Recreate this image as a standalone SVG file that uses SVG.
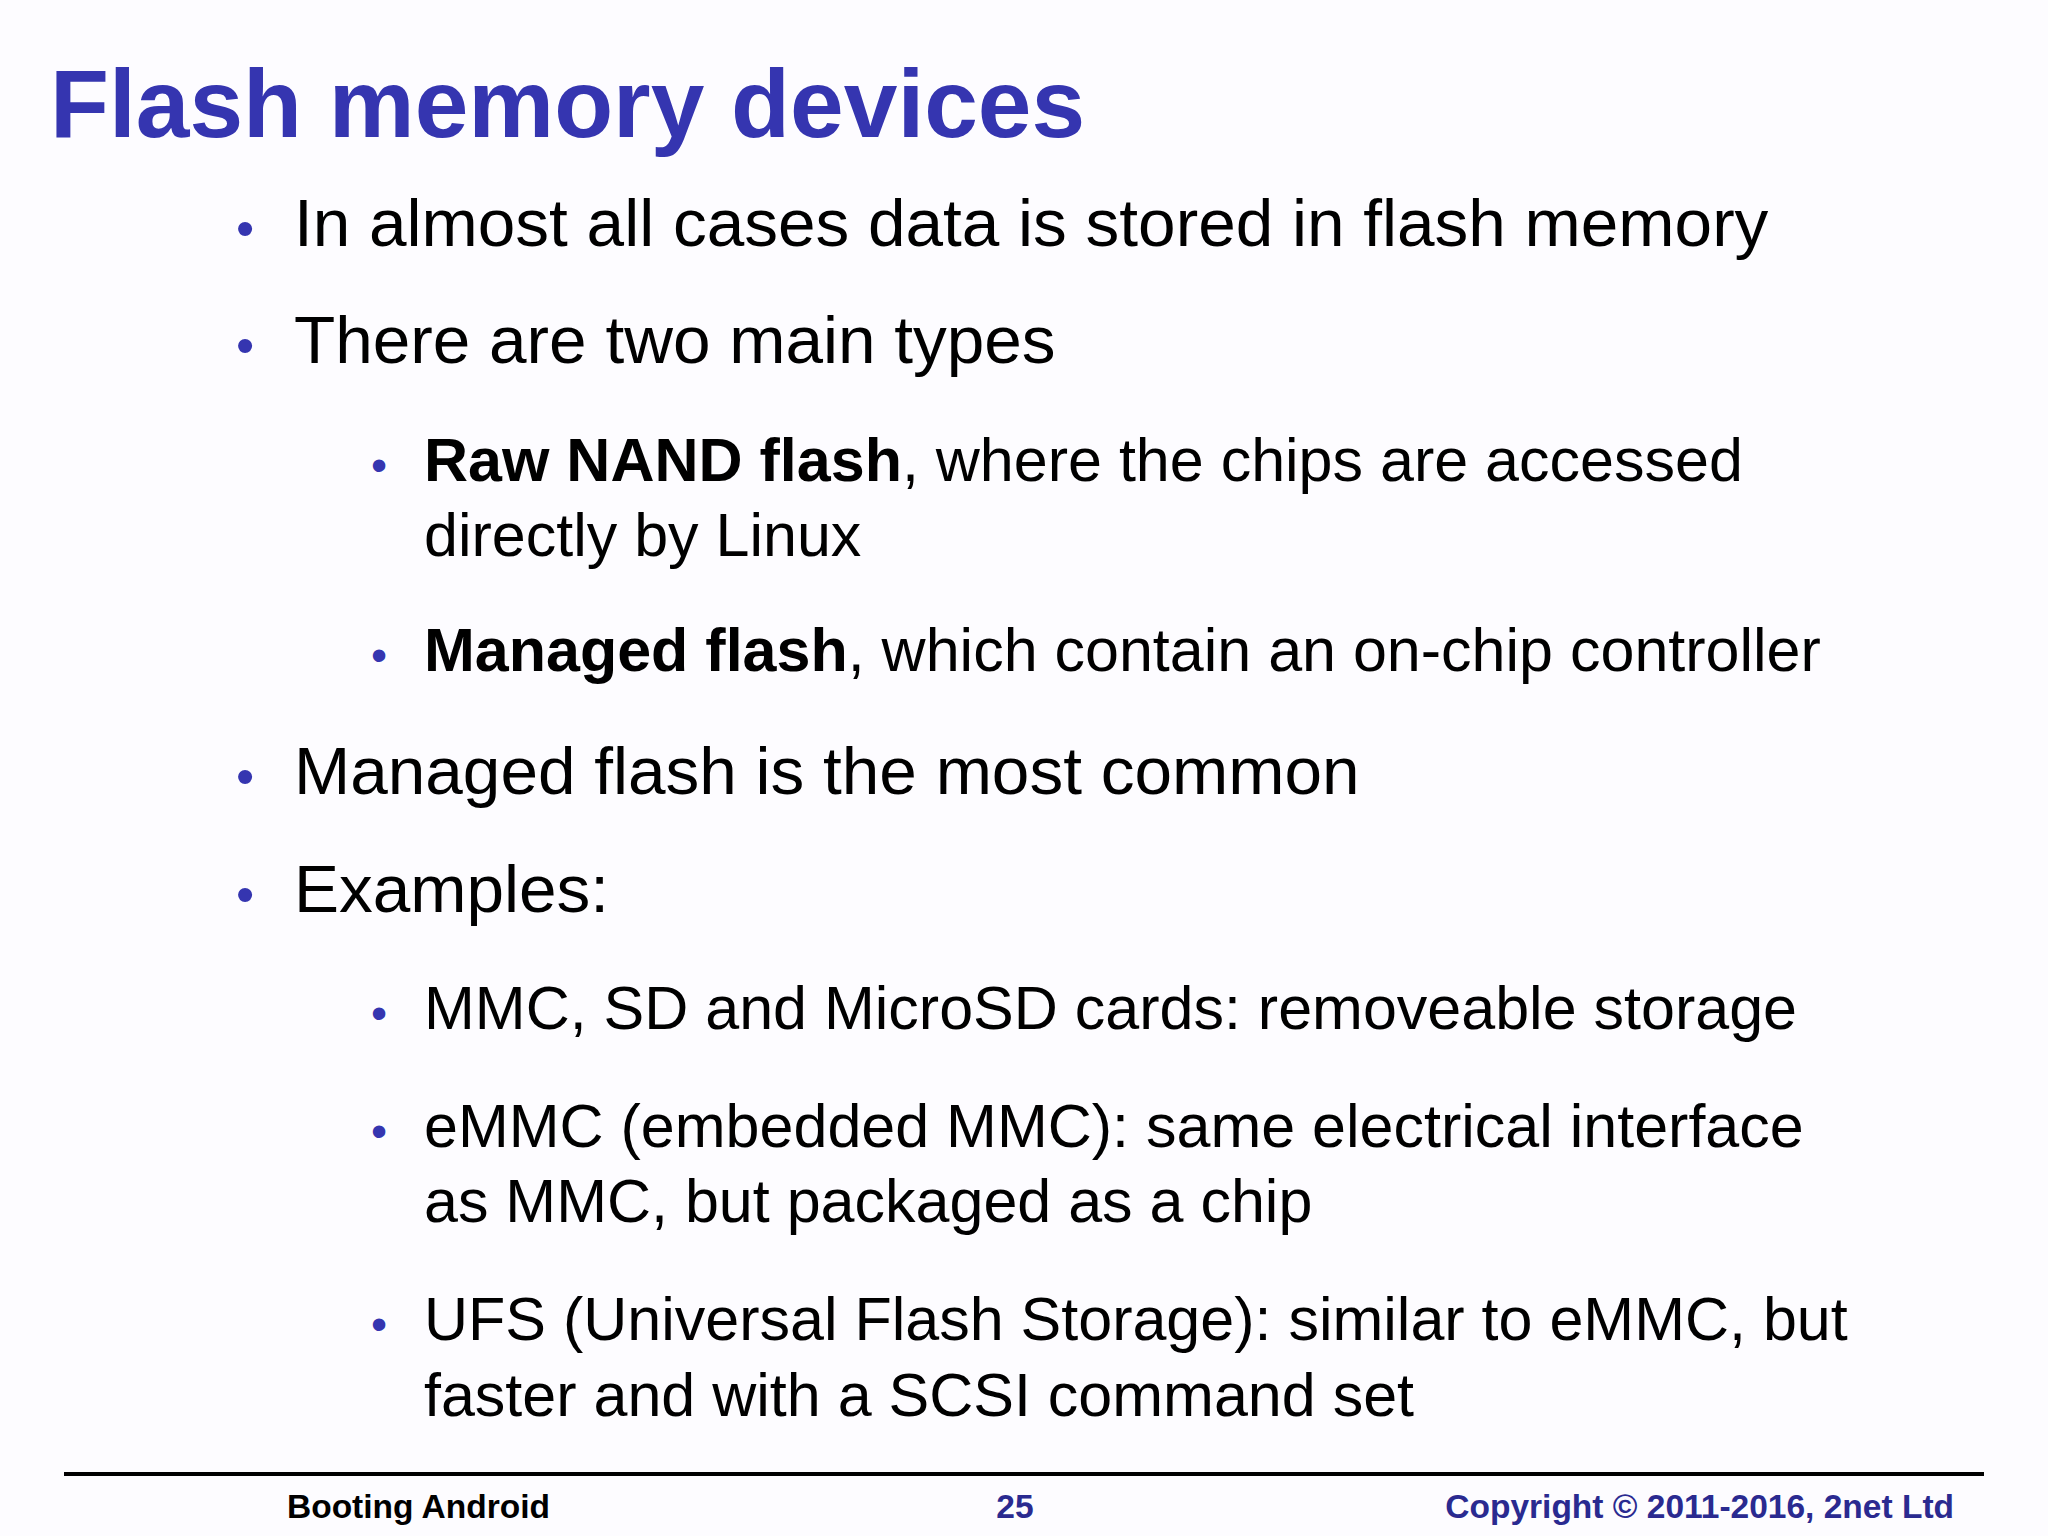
<svg xmlns="http://www.w3.org/2000/svg" width="2048" height="1536" viewBox="0 0 2048 1536">
<style>
.t{font-family:"Liberation Sans",Arial,sans-serif;fill:#000}
.l1{font-size:67.5px}
.l2{font-size:61px}
.b{fill:#3535b0;font-family:"Liberation Sans",Arial,sans-serif}
.f{font-family:"Liberation Sans",Arial,sans-serif;font-size:33.5px;font-weight:bold}
</style>
<rect width="2048" height="1536" fill="#fdfcff"/>
<text x="50" y="137" font-family="Liberation Sans, Arial, sans-serif" font-size="96.5" font-weight="bold" fill="#3535b0">Flash memory devices</text>
<g id="bullets">
<text class="b" x="236" y="246" font-size="52">•</text>
<text class="t l1" x="294" y="246">In almost all cases data is stored in flash memory</text>
<text class="b" x="236" y="363" font-size="52">•</text>
<text class="t l1" x="294" y="363">There are two main types</text>
<text class="b" x="371" y="481" font-size="46">•</text>
<text class="t l2" x="424" y="481"><tspan font-weight="bold">Raw NAND flash</tspan>, where the chips are accessed</text>
<text class="t l2" x="424" y="556">directly by Linux</text>
<text class="b" x="371" y="671" font-size="46">•</text>
<text class="t l2" x="424" y="671"><tspan font-weight="bold">Managed flash</tspan>, which contain an on-chip controller</text>
<text class="b" x="236" y="794" font-size="52">•</text>
<text class="t l1" x="294" y="794">Managed flash is the most common</text>
<text class="b" x="236" y="912" font-size="52">•</text>
<text class="t l1" x="294" y="912">Examples:</text>
<text class="b" x="371" y="1029" font-size="46">•</text>
<text class="t l2" x="424" y="1029">MMC, SD and MicroSD cards: removeable storage</text>
<text class="b" x="371" y="1147" font-size="46">•</text>
<text class="t l2" x="424" y="1147">eMMC (embedded MMC): same electrical interface</text>
<text class="t l2" x="424" y="1222">as MMC, but packaged as a chip</text>
<text class="b" x="371" y="1340" font-size="46">•</text>
<text class="t l2" x="424" y="1340">UFS (Universal Flash Storage): similar to eMMC, but</text>
<text class="t l2" x="424" y="1416">faster and with a SCSI command set</text>
</g>
<g id="footer">
<line x1="64" y1="1474" x2="1984" y2="1474" stroke="#000" stroke-width="4"/>
<text class="f" x="287" y="1518" fill="#000">Booting Android</text>
<text class="f" x="1015" y="1518" text-anchor="middle" fill="#2a2a90">25</text>
<text class="f" x="1954" y="1518" text-anchor="end" fill="#2a2a90">Copyright © 2011-2016, 2net Ltd</text>
</g>
</svg>
